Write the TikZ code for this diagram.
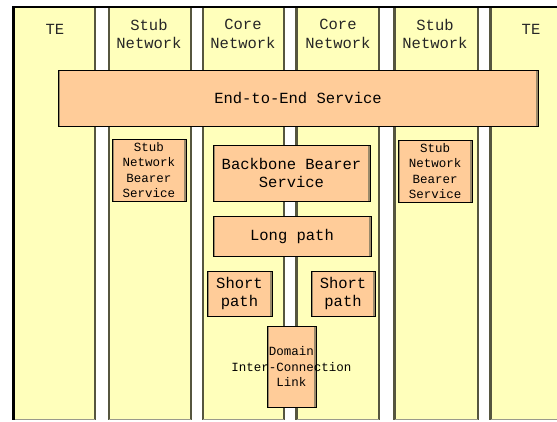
\documentclass[tikz,border=0pt]{standalone}
\usepackage{fontspec}
\setmonofont{Liberation Mono}
\definecolor{colfill}{HTML}{FFFFBB}
\definecolor{colrule}{HTML}{56563F}
\definecolor{boxfill}{HTML}{FFCC99}
\definecolor{boxedge}{HTML}{9A8A6A}
\begin{document}
\begin{tikzpicture}[x=1pt,y=-1pt,
  bigfont/.style={font=\fontsize{15.5}{18.5}\selectfont\ttfamily},
  smallfont/.style={font=\fontsize{12.5}{15.3}\selectfont\ttfamily},
  colhead/.style={bigfont, align=center, inner sep=0pt, text=black!85},
  layerbox/.style={rectangle, fill=boxfill, draw=black, line width=1pt,
    inner sep=0pt, align=center, text=black,
    path picture={\draw[boxedge, line width=4pt]
      (path picture bounding box.north west) -- (path picture bounding box.south west)
      (path picture bounding box.north east) -- (path picture bounding box.south east);}},
  colrulestyle/.style={colrule, line width=2.6pt}
]
\useasboundingbox (0,0) rectangle (557,421);

% domain columns
\foreach \xa/\xb in {13.5/95, 109/191, 203/284, 296.5/379, 394.5/478, 490.5/562}{
  \fill[colfill] (\xa,8) rectangle (\xb,419.5);
  \draw[colrulestyle] (\xa,8) -- (\xa,419.5);
  \draw[colrulestyle] (\xb,8) -- (\xb,419.5);
  \draw[colrule!60, line width=1pt] (\xa,419.5) -- (\xb,419.5);
}
\draw[black, line width=2.6pt] (13.5,8) -- (13.5,419.5);
\draw[black, line width=2.6pt] (12.2,7) -- (557,7);

% column headings
\node[colhead] (hte1) at (55,29) {TE};
\node[colhead] (hstub1) at (149,34) {Stub\\Network};
\node[colhead] (hcore1) at (243,34) {Core\\Network};
\node[colhead] (hcore2) at (338,34) {Core\\Network};
\node[colhead] (hstub2) at (435,34) {Stub\\Network};
\node[colhead] (hte2) at (531,29) {TE};

% service layers
\node[layerbox, bigfont, minimum width=480pt, minimum height=56pt] (e2e) at (298,98) {End-to-End Service};
\node[layerbox, smallfont, minimum width=74pt, minimum height=62pt] (sbs1) at (149,170) {Stub\\Network\\Bearer\\Service};
\node[layerbox, smallfont, minimum width=74pt, minimum height=62pt] (sbs2) at (435,171) {Stub\\Network\\Bearer\\Service};
\node[layerbox, bigfont, minimum width=157pt, minimum height=56pt] (bbs) at (291.5,173) {Backbone Bearer\\Service};
\node[layerbox, bigfont, minimum width=158pt, minimum height=40pt] (lp) at (292,236) {Long path};
\node[layerbox, bigfont, minimum width=65pt, minimum height=45pt] (sp1) at (239.5,293.5) {Short\\path};
\node[layerbox, bigfont, minimum width=64pt, minimum height=45pt] (sp2) at (343,293.5) {Short\\path};
\node[layerbox, minimum width=49pt, minimum height=81pt] (dil) at (291.5,366.5) {};
\node[smallfont, align=center, inner sep=0pt, text=black] (dilt) at (dil.center) {Domain\\Inter-Connection\\Link};
\end{tikzpicture}
\end{document}
